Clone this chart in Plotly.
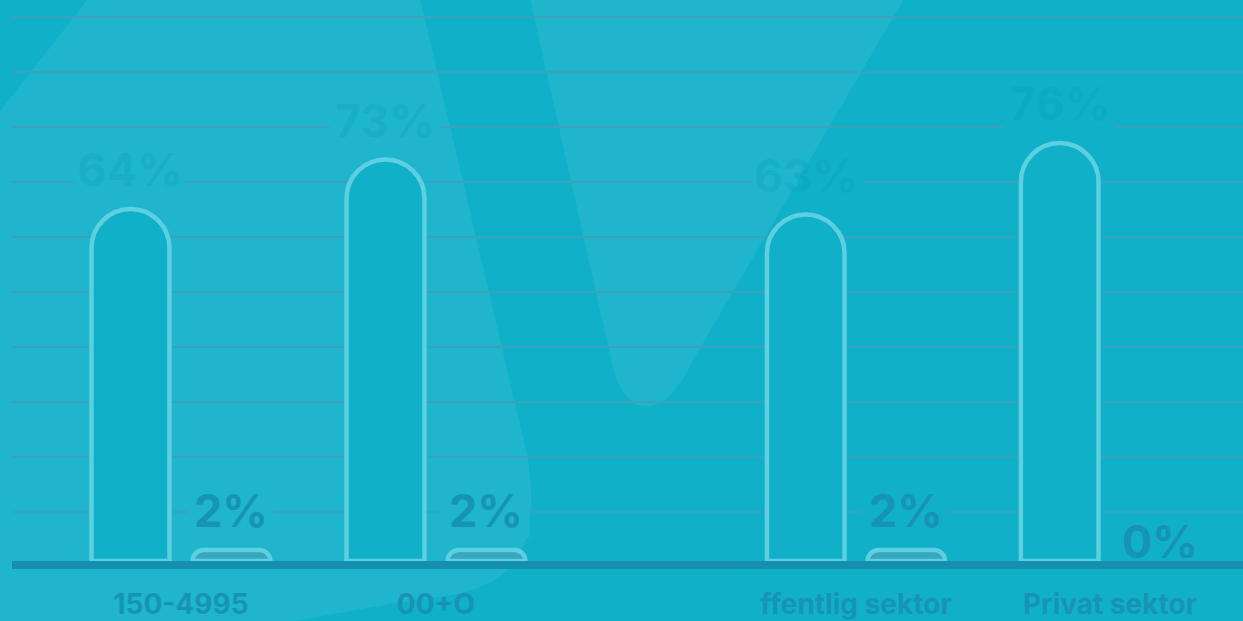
import plotly.graph_objects as go

# ---- data -------------------------------------------------------------
categories = ["150-4995", "00+O", "ffentlig sektor", "Privat sektor"]
share_main = [64, 73, 63, 76]
share_minor = [2, 2, 2, 0]

# ---- styling ----------------------------------------------------------
W, H = 1243, 621
ML, MR, MT, MB = 12, 0, 0, 58
Y_TOP = 102.0
GRID_START, GRID_STEP = 9, 10

BASE = "#10b0c9"
LIGHT = "#1eb5cd"
GRID = "#3aa3bb"
OUTLINE = "#5ccfe0"
MINOR_FILL = "#37a7bf"
AXIS = "#168fae"
LABEL = "#1794b4"
FAINT = "rgba(6,150,185,0.22)"
FONT = "Inter"

BARGAP = 0.208
BARGROUPGAP = 0.228
MAIN_BOX_W, MINOR_BOX_W = 110, 86

# two panels with their own category axes, so the middle gap is wider
panels = [
    {"axis": "x2", "domain": [0.0337, 0.4480], "idx": [0, 1]},
    {"axis": "x3", "domain": [0.5825, 0.9951], "idx": [2, 3]},
]
# backdrop behind each label; a pair means the label sits on a band edge
# (left colour, right colour, width of the left part in px)
main_label_bg = [LIGHT, LIGHT, (LIGHT, BASE, 47), BASE]
minor_label_bg = [LIGHT, LIGHT, BASE, BASE]


def to_paper(px, py):
    return ((px - ML) / (W - ML - MR), (H - MB - py) / (H - MT - MB))


def path(cmds):
    out = []
    for op, *pts in cmds:
        coords = " ".join("%.5f,%.5f" % to_paper(x, y) for x, y in pts)
        out.append(op + " " + coords if coords else op)
    return " ".join(out)


fig = go.Figure()

# invisible trace keeps the full-width frame subplot alive (gridlines + baseline)
fig.add_trace(go.Scatter(x=[], y=[], xaxis="x", yaxis="y", showlegend=False,
                         hoverinfo="skip"))

for p in panels:
    cats = [categories[i] for i in p["idx"]]
    for series, fill in ((share_main, BASE), (share_minor, MINOR_FILL)):
        vals = [series[i] for i in p["idx"]]
        fig.add_trace(go.Bar(
            x=cats, y=vals,
            xaxis=p["axis"], yaxis="y", showlegend=False,
            marker=dict(color=fill,
                        line=dict(color=OUTLINE,
                                  width=[4.5 if v > 0 else 0 for v in vals]),
                        cornerradius="50%"),
        ))

# value labels above each bar
offset = (1 - BARGAP) / 4
annotations = []
for p in panels:
    for k, i in enumerate(p["idx"]):
        for val, side, col, bg, w in (
            (share_main[i], -1, FAINT, main_label_bg[i], MAIN_BOX_W),
            (share_minor[i], 1, LABEL, minor_label_bg[i], MINOR_BOX_W),
        ):
            x = k + side * offset
            if isinstance(bg, tuple):
                # split backdrop: only needs to mask the gridline under the text
                left_col, right_col, left_w = bg
                grid_val = GRID_START + GRID_STEP * round((val - GRID_START) / GRID_STEP + 0.5)
                for c, ww, xs in ((left_col, left_w, -w / 2 + left_w / 2),
                                  (right_col, w - left_w, w / 2 - (w - left_w) / 2)):
                    annotations.append(dict(
                        xref=p["axis"], yref="y", x=x, y=grid_val, text=" ",
                        showarrow=False, xshift=xs, bgcolor=c, width=ww,
                        height=8, borderpad=0, font=dict(size=4),
                    ))
                bg = "rgba(0,0,0,0)"
            annotations.append(dict(
                xref=p["axis"], yref="y", x=x, y=val,
                text=f"{val}%", showarrow=False,
                yshift=40 if val > 0 else 20, yanchor="middle",
                font=dict(family=FONT, size=45, color=col, weight=700),
                bgcolor=bg, width=w, height=54 if val > 0 else 34,
                borderpad=0,
            ))

# soft lighter background bands
shape_a = path([
    ("M", (95, -10)), ("L", (418, -10)), ("L", (528, 460)),
    ("C", (542, 560), (510, 595), (420, 601)),
    ("L", (307, 621)), ("L", (150, 650)), ("L", (-420, 650)), ("Z",),
])
shape_b = path([
    ("M", (528, -10)), ("L", (612, 365)),
    ("C", (625, 422), (665, 422), (691, 365)),
    ("L", (909, -10)), ("Z",),
])
shapes = [
    dict(type="path", path=s, xref="paper", yref="paper", layer="below",
         fillcolor=LIGHT, line=dict(width=0))
    for s in (shape_a, shape_b)
]

layout_axes = dict(
    xaxis=dict(domain=[0, 1], anchor="y", range=[0, 1], showgrid=False,
               zeroline=False, showticklabels=False, showline=True,
               linecolor=AXIS, linewidth=8),
    yaxis=dict(anchor="x", range=[0, Y_TOP], showgrid=True, gridcolor=GRID,
               gridwidth=1.5, tick0=GRID_START, dtick=GRID_STEP,
               showticklabels=False, zeroline=False, showline=False),
)
for p in panels:
    layout_axes["xaxis" + p["axis"][1:]] = dict(
        domain=p["domain"], anchor="y", type="category", range=[-0.5, 1.5],
        showgrid=False, zeroline=False, showline=False, ticks="",
        tickfont=dict(family=FONT, size=28, color=LABEL, weight=700),
        ticklabelstandoff=24,
    )

fig.update_layout(
    width=W, height=H,
    margin=dict(l=ML, r=MR, t=MT, b=MB, pad=0),
    paper_bgcolor=BASE, plot_bgcolor="rgba(0,0,0,0)",
    barmode="group", bargap=BARGAP, bargroupgap=BARGROUPGAP,
    annotations=annotations, shapes=shapes,
    showlegend=False,
    **layout_axes,
)

fig.write_html("out.html")
